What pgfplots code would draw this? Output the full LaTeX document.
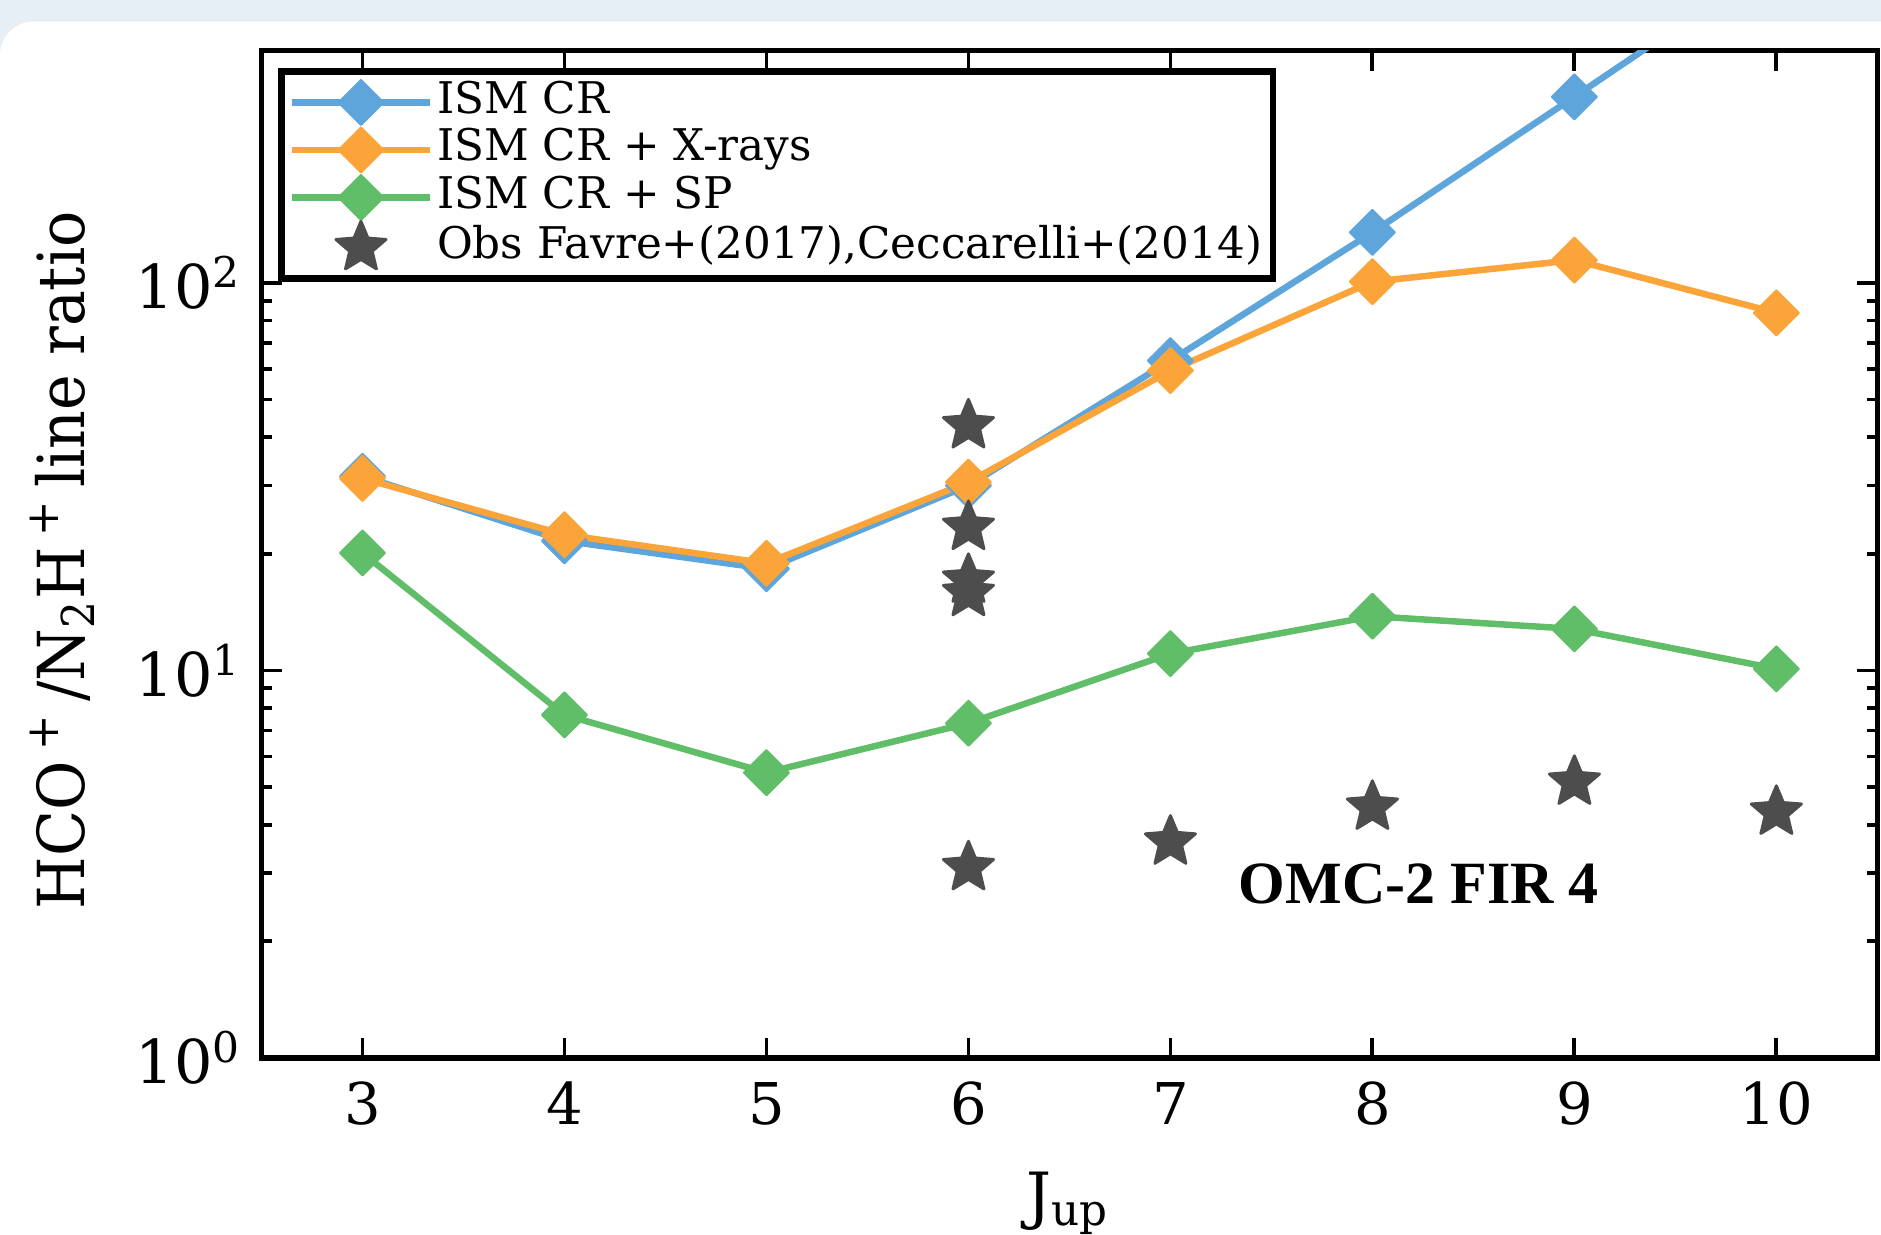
\documentclass[border=0pt]{standalone}
\usepackage{fontspec}
\setmainfont{DejaVu Serif}
\newfontfamily\condserif{DejaVu Serif}[FakeStretch=0.93]
\newfontfamily\annfont{Liberation Serif}
\usepackage{pgfplots}
\pgfplotsset{compat=1.18}
\definecolor{cblue}{HTML}{5DA5DA}
\definecolor{corange}{HTML}{FAA43A}
\definecolor{cgreen}{HTML}{60BD68}
\definecolor{cstar}{HTML}{4D4D4D}
\definecolor{band}{HTML}{E6EEF6}
\pgfdeclareplotmark{mdiam}{%
  \pgfpathmoveto{\pgfqpoint{0pt}{\pgfplotmarksize}}%
  \pgfpathlineto{\pgfqpoint{\pgfplotmarksize}{0pt}}%
  \pgfpathlineto{\pgfqpoint{0pt}{-\pgfplotmarksize}}%
  \pgfpathlineto{\pgfqpoint{-\pgfplotmarksize}{0pt}}%
  \pgfpathclose\pgfusepathqfillstroke}
\pgfdeclareplotmark{mstar}{%
  \pgfpathmoveto{\pgfpointpolar{90}{\pgfplotmarksize}}%
  \pgfpathlineto{\pgfpointpolar{126}{0.45\pgfplotmarksize}}%
  \pgfpathlineto{\pgfpointpolar{162}{\pgfplotmarksize}}%
  \pgfpathlineto{\pgfpointpolar{198}{0.45\pgfplotmarksize}}%
  \pgfpathlineto{\pgfpointpolar{234}{\pgfplotmarksize}}%
  \pgfpathlineto{\pgfpointpolar{270}{0.45\pgfplotmarksize}}%
  \pgfpathlineto{\pgfpointpolar{306}{\pgfplotmarksize}}%
  \pgfpathlineto{\pgfpointpolar{342}{0.45\pgfplotmarksize}}%
  \pgfpathlineto{\pgfpointpolar{18}{\pgfplotmarksize}}%
  \pgfpathlineto{\pgfpointpolar{54}{0.45\pgfplotmarksize}}%
  \pgfpathclose\pgfusepathqfillstroke}
\pgfplotsset{
  lineleg/.style={legend image code/.code={%
    \draw[mark repeat=2,mark phase=2,##1] plot coordinates {(0pt,0pt) (14.4pt,0pt) (28.8pt,0pt)};}},
  starleg/.style={legend image code/.code={%
    \draw[##1] plot coordinates {(14.4pt,0pt)};}},
}
\begin{document}
\begin{tikzpicture}
\path[use as bounding box] (-54.5pt,-36.75pt) rectangle (337.5pt,220.5pt);
\fill[band] (-54.5pt,-36.75pt) rectangle (337.5pt,220.5pt);
\fill[white, rounded corners=7pt] (-54.5pt,-60pt) rectangle (360pt,216pt);
\begin{axis}[
  at={(0pt,0pt)}, anchor=south west,
  scale only axis, width=336.75pt, height=210pt,
  xmin=2.5, xmax=10.5, ymode=log, ymin=1, ymax=398,
  xtick={3,4,5,6,7,8,9,10},
  ytick={1,10,100},
  yticklabels={10\textsuperscript{0},10\textsuperscript{1},10\textsuperscript{2}},
  /pgf/number format/assume math mode=true,
  tick label style={font=\fontsize{12}{14}\selectfont},
  yticklabel style={font=\fontsize{12.6}{14}\selectfont, xshift=-0.5pt},
  xticklabel style={yshift=-1.5pt},
  tick align=inside,
  major tick length=4.2pt, minor tick length=2.2pt,
  every tick/.style={black, line width=0.8pt},
  axis line style={line width=1.1pt},
  xlabel={J\textsubscript{up}},
  xlabel style={font=\fontsize{13}{15}\selectfont, at={(axis description cs:0.499,-0.144)}, anchor=center},
  ylabel={HCO\,\textsuperscript{+}\,/N\textsubscript{2}H\,\textsuperscript{+}\,line ratio},
  ylabel style={font=\condserif\fontsize{13.5}{15}\selectfont, at={(axis description cs:-0.1232,0.494)}, anchor=center},
  legend style={at={(0,1)}, anchor=north west, xshift=3.5pt, yshift=-3.75pt,
    draw=black, line width=1.3pt, inner xsep=1.5pt, inner ysep=1.5pt,
    font=\fontsize{9.1}{10}\selectfont,
    nodes={inner sep=0.8pt, text height=6.4pt, text depth=1.9pt},
    row sep=0pt},
  legend cell align=left,
  every axis plot/.append style={line width=1.35pt},
]
\addplot[cblue, mark=mdiam, mark size=4.7pt, mark options={solid, fill=cblue, draw=cblue, line width=0.4pt, line join=round}, lineleg]
 coordinates {(3,31.7) (4,21.6) (5,18.3) (6,30.0) (7,63.0) (8,135) (9,302) (10,680)};
\addlegendentry{ISM CR}
\addplot[corange, mark=mdiam, mark size=4.7pt, mark options={solid, fill=corange, draw=corange, line width=0.4pt, line join=round}, lineleg]
 coordinates {(3,31.3) (4,22.4) (5,18.9) (6,30.6) (7,59.4) (8,100.7) (9,114.5) (10,83.7)};
\addlegendentry{ISM CR + X-rays}
\addplot[cgreen, mark=mdiam, mark size=4.7pt, mark options={solid, fill=cgreen, draw=cgreen, line width=0.4pt, line join=round}, lineleg]
 coordinates {(3,20.1) (4,7.68) (5,5.45) (6,7.31) (7,11.05) (8,13.8) (9,12.8) (10,10.1)};
\addlegendentry{ISM CR + SP}
\addplot[only marks, cstar, mark=mstar, mark size=5.5pt, mark options={fill=cstar, draw=cstar, line width=0.6pt, line join=round}, starleg]
 coordinates {(6,42.8) (6,23.4) (6,17.1) (6,15.8) (6,3.1) (7,3.61) (8,4.44) (9,5.15) (10,4.31)};
\addlegendentry{Obs Favre+(2017),Ceccarelli+(2014)}
\node[font=\annfont\bfseries\fontsize{12.5}{14}\selectfont, anchor=center] at (axis cs:8.23,2.81) {OMC-2 FIR 4};
\end{axis}
\end{tikzpicture}
\end{document}
